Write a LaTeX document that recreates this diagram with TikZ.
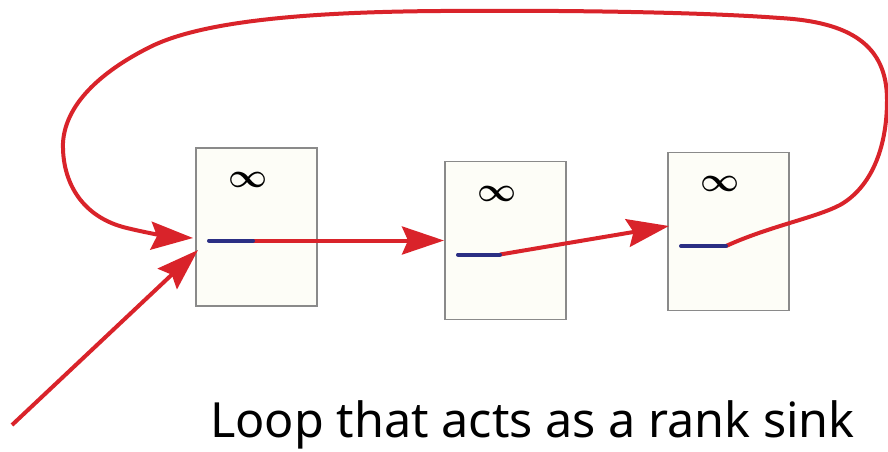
\documentclass[tikz,border=0pt]{standalone}
\usepackage{fontspec}
\usepackage{amsmath}
\usepackage{bm}
\setmainfont{Noto Sans}
\usetikzlibrary{arrows.meta}
\definecolor{redline}{HTML}{D9232A}
\definecolor{blueline}{HTML}{2B2F84}
\definecolor{boxfill}{HTML}{FDFDF7}
\definecolor{boxedge}{HTML}{8A8A8A}
\tikzset{
  pagebox/.style={draw=boxedge, fill=boxfill, line width=1.3pt, minimum width=121pt, minimum height=158pt, inner sep=0pt},
  inf/.style={inner sep=0pt, scale=3.4},
  bluebar/.style={draw=blueline, line width=4pt, line cap=round},
  redarrow/.style={draw=redline, line width=4pt, -{Stealth[length=42pt,width=28pt,inset=6pt]}},
  redline/.style={draw=redline, line width=4pt, line cap=round},
}
\begin{document}
\begin{tikzpicture}[x=1pt,y=-1pt]
\useasboundingbox (0,0) rectangle (888,451);
% boxes
\node[pagebox] (b1) at (256.5,227) {};
\node[pagebox] (b2) at (505.5,240.5) {};
\node[pagebox] (b3) at (728.5,231.5) {};
\node[inf] (i1) at (248,180) {$\bm{\infty}$};
\node[inf] (i2) at (497,194) {$\bm{\infty}$};
\node[inf] (i3) at (720,184) {$\bm{\infty}$};
% bar coordinates
\coordinate (a1) at (209,240.5);
\coordinate (c1) at (253,240.5);
\coordinate (a2) at (458,254.5);
\coordinate (c2) at (500,254.5);
\coordinate (a3) at (681,246);
\coordinate (c3) at (726,246);
\coordinate (t1) at (193,238);
\coordinate (t1b) at (198,250);
\coordinate (t2) at (444,240.5);
\coordinate (t3) at (669,226);
\coordinate (src) at (12,425);
% red arrows
\draw[redline] (c1) -- (258,240.5);
\draw[redarrow] (258,240.5) -- (t2);
\draw[redarrow] (c2) -- (t3);
\draw[redarrow] (src) -- (t1b);
\draw[redarrow] (c3) .. controls (770,226) and (815,218) .. (840,205)
  .. controls (870,188) and (887,150) .. (887,100)
  .. controls (887,45) and (850,22) .. (780,18)
  .. controls (700,12) and (560,10) .. (440,11)
  .. controls (300,12) and (200,22) .. (150,47)
  .. controls (100,72) and (65,105) .. (63,143)
  .. controls (62,180) and (80,215) .. (123,227)
  .. controls (150,234) and (175,237) .. (t1);
% blue bars (on top)
\draw[bluebar] (a1) -- (c1);
\draw[bluebar] (a2) -- (c2);
\draw[bluebar] (a3) -- (c3);
% caption
\node[anchor=base west, inner sep=0pt, font=\fontsize{48.5}{48.5}\selectfont] (cap) at (210,437) {Loop that acts as a rank sink};
\end{tikzpicture}
\end{document}
